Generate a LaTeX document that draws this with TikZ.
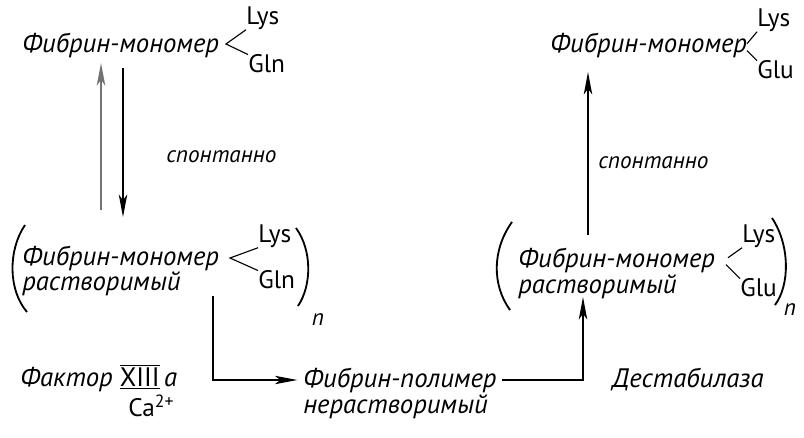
\documentclass[tikz,border=0pt]{standalone}
\usepackage{fontspec}
\setmainfont{PT Sans}
\usetikzlibrary{arrows.meta}

\begin{document}
\begin{tikzpicture}[x=0.025cm, y=-0.025cm,
  lbl/.style={font=\itshape\fontsize{19}{21}\selectfont, inner sep=0pt, anchor=west},
  small/.style={font=\itshape\fontsize{16.5}{18}\selectfont, inner sep=0pt, anchor=west},
  res/.style={font=\fontsize{18}{20}\selectfont, inner sep=0pt, anchor=west},
  fork/.style={line width=0.8pt},
  paren/.style={line width=1.3pt},
  arrow/.style={-{Stealth[length=16pt,width=6pt,inset=4pt]}, line width=0.9pt},
  garrow/.style={-{Stealth[length=16pt,width=6pt,inset=4pt]}, line width=1.8pt, black!55}
]
\useasboundingbox (0,0) rectangle (804,437);

% Мономер слева
\node[lbl] (mono1) at (22,45) {Фибрин-мономер};
\coordinate (f1) at (226,44);
\node[res] (lys1) at (246,18) {Lys};
\node[res] (gln1) at (248,64) {Gln};
\draw[fork] (lys1.south west) -- (f1) -- (gln1.north west);

% Растворимый слева
\node[lbl] (sol1) at (22,258) {Фибрин-мономер};
\node[lbl] (sol1b) at (22,284) {растворимый};
\coordinate (f2) at (230,258);
\node[res] (lys2) at (258,236) {Lys};
\node[res] (gln2) at (258,280) {Gln};
\draw[fork] (lys2.south west) -- (f2) -- (gln2.north west);
\draw[paren] (25,225) .. controls (8,250) and (8,290) .. (27,312);
\draw[paren] (296,228) .. controls (312,250) and (312,285) .. (298,306);
\node[small, anchor=center] (n1) at (318,320) {n};

% Спонтанно слева
\coordinate (g0) at (101,210);
\coordinate (g1) at (101,63);
\coordinate (b0) at (123,68);
\coordinate (b1) at (123,217);
\draw[garrow] (g0) -- (g1);
\draw[arrow] (b0) -- (b1);
\node[small] (sp1) at (166,157) {спонтанно};

% Полимер
\node[lbl] (fxiii) at (20,378) {Фактор $\underline{\overline{\hbox{\upshape XIII}}}$\,a};
\node[res] (ca) at (128,406) {Ca\textsuperscript{2+}};
\node[lbl] (polyA) at (303,380) {Фибрин-полимер};
\node[lbl] (polyB) at (303,407) {нерастворимый};
\node[lbl] (dest) at (612,380) {Дестабилаза};
\coordinate (d0) at (213,296);
\coordinate (u1) at (583,297);
\draw[arrow, shorten >=4pt] (d0) |- (polyA.west);
\draw[arrow, shorten <=4pt] (polyA.east) -| (u1);

% Растворимый справа
\node[lbl] (sol2) at (518,260) {Фибрин-мономер};
\node[lbl] (sol2b) at (518,287) {растворимый};
\node[res] (lys3) at (742,236) {Lys};
\node[res] (glu3) at (740,288) {Glu};
\draw[fork] (lys3.south west) -- ++(-14,10);
\draw[fork] (glu3.north west) -- ++(-14,-14);
\draw[paren] (512,222) .. controls (492,250) and (492,285) .. (510,310);
\draw[paren] (772,218) .. controls (790,245) and (790,285) .. (775,305);
\node[small, anchor=center] (n2) at (790,310) {n};

% Спонтанно справа
\coordinate (u2) at (588,235);
\coordinate (u3) at (588,72);
\draw[arrow] (u2) -- (u3);
\node[small] (sp2) at (598,163) {спонтанно};

% Мономер справа
\node[lbl] (mono2) at (550,45) {Фибрин-мономер};
\node[res] (lys4) at (757,20) {Lys};
\node[res] (glu4) at (757,70) {Glu};
\draw[fork] (lys4.south west) -- ++(-10,12);
\draw[fork] (glu4.north west) -- ++(-10,-10);
\end{tikzpicture}
\end{document}
